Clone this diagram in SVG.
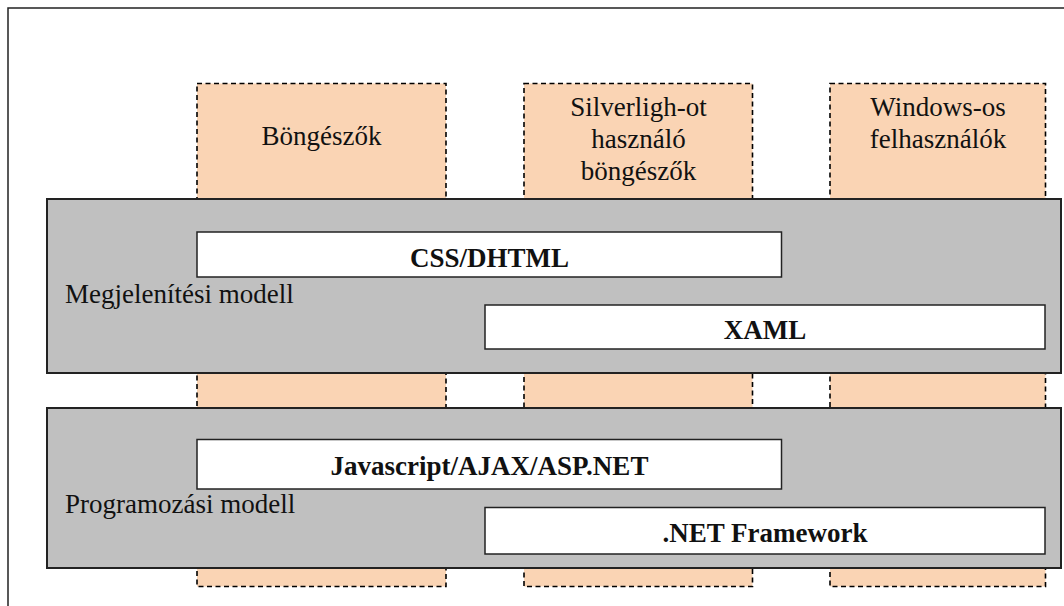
<svg xmlns="http://www.w3.org/2000/svg" width="1064" height="606" viewBox="0 0 1064 606">
<style>
.frame{fill:none;stroke:#222;stroke-width:1.5}
.client{fill:#FAD4B4;stroke:#000;stroke-width:1.6;stroke-dasharray:5 3.5}
.layer{fill:#C0C0C0;stroke:#222;stroke-width:2}
.tech{fill:#fff;stroke:#222;stroke-width:1.5}
.t{font-family:'Liberation Serif','Times New Roman','DejaVu Serif',serif;font-size:27px;fill:#111}
.c{text-anchor:middle}
.b{font-weight:bold}
</style>
<rect width="1064" height="606" fill="#fff"/>
<path class="frame" d="M8,606 V8 H1064"/>
<g id="clients">
<g id="bongeszok">
<rect class="client" x="197" y="83.5" width="249" height="503"/>
<text class="t c" x="321.5" y="145" font-family="Liberation Serif, serif">Böngészők</text>
</g>
<g id="silverlight">
<rect class="client" x="524" y="83.5" width="228.5" height="503"/>
<text class="t c" x="638.5" y="116" font-family="Liberation Serif, serif">Silverligh-ot</text>
<text class="t c" x="638.5" y="148" font-family="Liberation Serif, serif">használó</text>
<text class="t c" x="638.5" y="180" font-family="Liberation Serif, serif">böngészők</text>
</g>
<g id="windows">
<rect class="client" x="830" y="83.5" width="215.5" height="503"/>
<text class="t c" x="938" y="116" font-family="Liberation Serif, serif">Windows-os</text>
<text class="t c" x="938" y="148" font-family="Liberation Serif, serif">felhasználók</text>
</g>
</g>
<g id="megjelenitesi">
<rect class="layer" x="47" y="199" width="1014" height="174"/>
<text class="t" x="65" y="302.5" font-family="Liberation Serif, serif">Megjelenítési modell</text>
</g>
<g id="css">
<rect class="tech" x="197" y="232" width="584.5" height="45"/>
<text class="t c b" x="489.5" y="266.5" font-family="Liberation Serif, serif">CSS/DHTML</text>
</g>
<g id="xaml">
<rect class="tech" x="485" y="305" width="560" height="44"/>
<text class="t c b" x="765" y="338.5" font-family="Liberation Serif, serif">XAML</text>
</g>
<g id="programozasi">
<rect class="layer" x="47" y="408" width="1014" height="160"/>
<text class="t" x="65" y="513" font-family="Liberation Serif, serif">Programozási modell</text>
</g>
<g id="javascript">
<rect class="tech" x="197" y="439.5" width="584.5" height="49.5"/>
<text class="t c b" x="489.5" y="475" font-family="Liberation Serif, serif">Javascript/AJAX/ASP.NET</text>
</g>
<g id="netfw">
<rect class="tech" x="485" y="507.5" width="560" height="46.5"/>
<text class="t c b" x="765" y="541.5" font-family="Liberation Serif, serif">.NET Framework</text>
</g>
<g id="connectors"></g>
</svg>
